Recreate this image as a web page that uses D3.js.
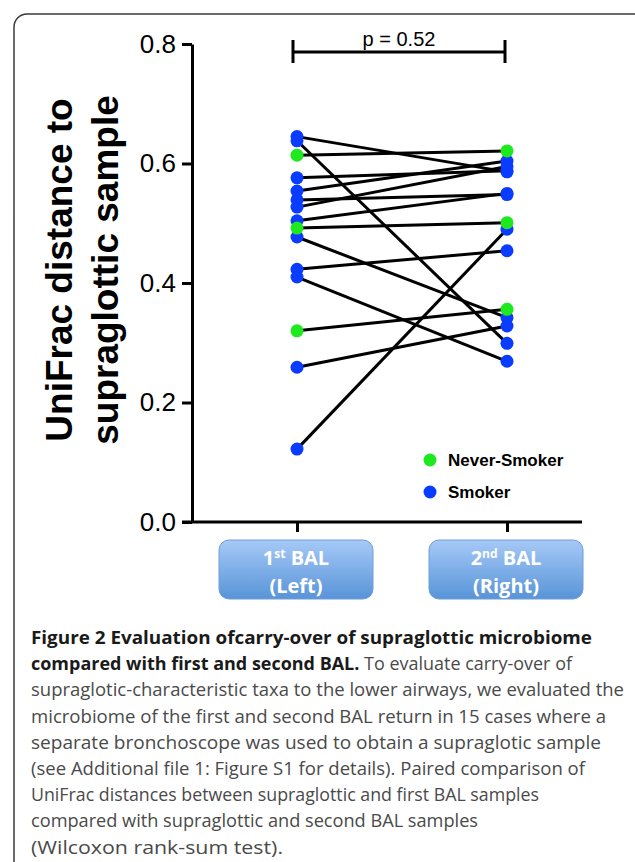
<!DOCTYPE html>
<html>
<head>
<meta charset="utf-8">
<script src="https://cdn.jsdelivr.net/npm/d3@7"></script>
<style>
  html, body { margin: 0; padding: 0; background: #fff; }
  svg { display: block; }
</style>
</head>
<body>
<svg id="chart" width="635" height="862"></svg>
<script>
// ---- data ----
const groups = ["1st BAL (Left)", "2nd BAL (Right)"];
const firstBAL  = [0.645, 0.638, 0.614, 0.576, 0.554, 0.539, 0.527, 0.504, 0.492, 0.477, 0.423, 0.410, 0.320, 0.259, 0.122];
const secondBAL = [0.586, 0.299, 0.621, 0.588, 0.604, 0.548, 0.595, 0.550, 0.501, 0.342, 0.454, 0.269, 0.356, 0.328, 0.490];
const status    = ["Smoker","Smoker","Never-Smoker","Smoker","Smoker","Smoker","Smoker","Smoker","Never-Smoker","Smoker","Smoker","Smoker","Never-Smoker","Smoker","Smoker"];
const legendLabels = ["Never-Smoker", "Smoker"];
const yTicks = [0, 0.2, 0.4, 0.6, 0.8];
const pValueText = "p = 0.52";
const yTitleLines = ["UniFrac distance to", "supraglottic sample"];
const captionLines = [
  [{b:true, t:"Figure 2 Evaluation ofcarry-over of supraglottic microbiome"}],
  [{b:true, t:"compared with first and second BAL."}, {b:false, t:" To evaluate carry-over of"}],
  [{b:false, t:"supraglotic-characteristic taxa to the lower airways, we evaluated the"}],
  [{b:false, t:"microbiome of the first and second BAL return in 15 cases where a"}],
  [{b:false, t:"separate bronchoscope was used to obtain a supraglotic sample"}],
  [{b:false, t:"(see Additional file 1: Figure S1 for details). Paired comparison of"}],
  [{b:false, t:"UniFrac distances between supraglottic and first BAL samples"}],
  [{b:false, t:"compared with supraglottic and second BAL samples"}],
  [{b:false, t:"(Wilcoxon rank-sum test)."}]
];
const captionWidths = [561, 541, 593, 575, 570, 554, 508, 447, 252];

// ---- drawing ----
const svg = d3.select("#chart");
const colors = d3.scaleOrdinal().domain(legendLabels).range(["#1ee81e", "#0a3cff"]);

// frame
svg.append("rect").attr("x", 14).attr("y", 14).attr("width", 660).attr("height", 900)
  .attr("rx", 13).attr("fill", "none").attr("stroke", "#3a3a3a").attr("stroke-width", 1.5);

const y = d3.scaleLinear().domain([0, 0.8]).range([522, 44]);
const x = d3.scalePoint().domain(groups).range([297, 507]);
const axisX = 192;

// y axis
const yAxis = svg.append("g").attr("transform", `translate(${axisX},0)`)
  .call(d3.axisLeft(y).tickValues(yTicks).tickFormat(d3.format(".1f")).tickSize(10).tickSizeOuter(0).tickPadding(6));
yAxis.select(".domain").attr("stroke", "#000").attr("stroke-width", 3);
yAxis.selectAll(".tick line").attr("stroke", "#000").attr("stroke-width", 3);
yAxis.selectAll(".tick text").attr("font-family", "Liberation Sans, Arial, sans-serif").attr("font-size", 26).attr("fill", "#000");

// x axis
const xAxis = svg.append("g").attr("transform", `translate(0,${y(0)})`)
  .call(d3.axisBottom(x).tickSize(10).tickSizeOuter(0).tickFormat(""));
xAxis.select(".domain").remove();
xAxis.selectAll(".tick line").attr("stroke", "#000").attr("stroke-width", 3);
svg.append("line").attr("x1", 182).attr("x2", 582).attr("y1", y(0)).attr("y2", y(0))
  .attr("stroke", "#000").attr("stroke-width", 3);

// y title
const yt = svg.append("text").attr("transform", "translate(0,270) rotate(-90)")
  .attr("text-anchor", "middle").attr("font-family", "Liberation Sans, Arial, sans-serif")
  .attr("font-weight", "bold").attr("font-size", 37).attr("fill", "#000");
yt.selectAll("tspan").data(yTitleLines).join("tspan")
  .attr("x", 0).attr("y", (d, i) => 72 + i * 46).text(d => d);

// pairs
const pairs = firstBAL.map((v, i) => ({a: v, b: secondBAL[i], s: status[i]}));
svg.append("g").selectAll("line").data(pairs).join("line")
  .attr("x1", x(groups[0])).attr("x2", x(groups[1]))
  .attr("y1", d => y(d.a)).attr("y2", d => y(d.b))
  .attr("stroke", "#000").attr("stroke-width", 3);

const pts = [];
pairs.forEach(p => { pts.push({g: groups[0], v: p.a, s: p.s}); pts.push({g: groups[1], v: p.b, s: p.s}); });
pts.sort((a, b) => (a.s === "Smoker" ? 0 : 1) - (b.s === "Smoker" ? 0 : 1));
svg.append("g").selectAll("circle").data(pts).join("circle")
  .attr("cx", d => x(d.g)).attr("cy", d => y(d.v)).attr("r", 6.5)
  .attr("fill", d => colors(d.s));

// significance bracket
const by = 52;
const bg = svg.append("g").attr("stroke", "#000").attr("stroke-width", 3);
bg.append("line").attr("x1", x(groups[0]) - 4).attr("x2", x(groups[1]) - 2).attr("y1", by).attr("y2", by);
bg.append("line").attr("x1", x(groups[0]) - 4).attr("x2", x(groups[0]) - 4).attr("y1", 40).attr("y2", 63);
bg.append("line").attr("x1", x(groups[1]) - 2).attr("x2", x(groups[1]) - 2).attr("y1", 40).attr("y2", 63);
svg.append("text").attr("x", (x(groups[0]) + x(groups[1])) / 2 - 3).attr("y", 46)
  .attr("text-anchor", "middle").attr("font-family", "Liberation Sans, Arial, sans-serif")
  .attr("font-size", 20).attr("fill", "#000").text(pValueText);

// legend
const lg = svg.append("g");
legendLabels.forEach((l, i) => {
  lg.append("circle").attr("cx", 430).attr("cy", 460 + i * 32).attr("r", 6.5).attr("fill", colors(l));
  lg.append("text").attr("x", 448).attr("y", 466 + i * 32).attr("font-family", "Liberation Sans, Arial, sans-serif")
    .attr("font-weight", "bold").attr("font-size", 17).attr("fill", "#000").text(l);
});

// category boxes
const defs = svg.append("defs");
const grad = defs.append("linearGradient").attr("id", "boxGrad").attr("x1", 0).attr("y1", 0).attr("x2", 0).attr("y2", 1);
grad.append("stop").attr("offset", "0%").attr("stop-color", "#a6c9f7");
grad.append("stop").attr("offset", "100%").attr("stop-color", "#5894d8");
const boxW = 154, boxH = 59;
const boxData = [
  {g: groups[0], n: "1", sup: "st", l2: "(Left)"},
  {g: groups[1], n: "2", sup: "nd", l2: "(Right)"}
];
boxData.forEach(d => {
  const cx = x(d.g) - 1;
  const gg = svg.append("g");
  gg.append("rect").attr("x", cx - boxW / 2).attr("y", 540).attr("width", boxW).attr("height", boxH)
    .attr("rx", 10).attr("fill", "url(#boxGrad)").attr("stroke", "#6f9ed6").attr("stroke-width", 1);
  const t1 = gg.append("text").attr("x", cx).attr("y", 565).attr("text-anchor", "middle")
    .attr("font-family", "Open Sans, sans-serif").attr("font-weight", "bold").attr("font-size", 20).attr("fill", "#fff");
  t1.append("tspan").text(d.n);
  t1.append("tspan").attr("dy", -7).attr("font-size", 12).text(d.sup);
  t1.append("tspan").attr("dy", 7).text(" BAL");
  gg.append("text").attr("x", cx).attr("y", 593).attr("text-anchor", "middle")
    .attr("font-family", "Open Sans, sans-serif").attr("font-weight", "bold").attr("font-size", 20).attr("fill", "#fff").text(d.l2);
});

// caption
captionLines.forEach((line, i) => {
  const t = svg.append("text").attr("x", 31).attr("y", 644 + i * 26.2)
    .attr("font-family", "Open Sans, sans-serif").attr("font-size", 18)
    .attr("textLength", captionWidths[i]).attr("lengthAdjust", "spacingAndGlyphs");
  line.forEach(seg => {
    t.append("tspan").attr("font-weight", seg.b ? "bold" : "normal")
      .attr("fill", seg.b ? "#1a1a1a" : "#4a4a4a").text(seg.t);
  });
});
</script>
</body>
</html>
